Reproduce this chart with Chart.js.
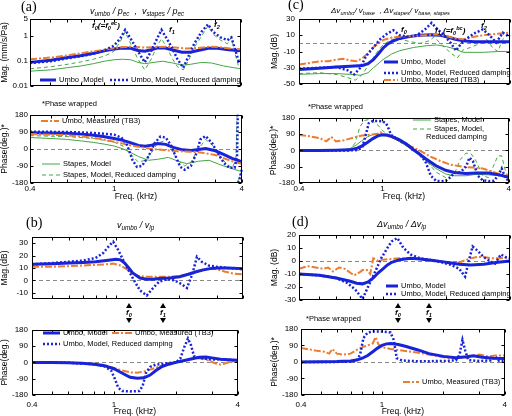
<!DOCTYPE html>
<html>
<head>
<meta charset="utf-8">
<script src="https://cdn.jsdelivr.net/npm/chart.js@4/dist/chart.umd.min.js"></script>
<style>
body{margin:0;background:#fff;}
#wrap{position:relative;width:512px;height:416px;overflow:hidden;background:#fff;font-family:"Liberation Sans",Arial,sans-serif;}
canvas{position:absolute;}
.t{position:absolute;white-space:nowrap;color:#000;line-height:1;}
.t sub{font-size:70%;vertical-align:-0.35em;line-height:0;}
.t sup{font-size:70%;vertical-align:0.5em;line-height:0;}
.lab{font-family:"Liberation Serif","Times New Roman",serif;font-size:14px;}
.ttl{font-size:9px;font-style:italic;}
.ttl.small{font-size:8px;}
.note{font-size:7.5px;}
.key{font-size:7.5px;}
.fl{font-size:8px;font-style:italic;font-weight:bold;}
.up{position:absolute;width:0;height:0;border-left:3px solid transparent;border-right:3px solid transparent;border-bottom:5px solid #000;}
.dn{position:absolute;width:0;height:0;border-left:3px solid transparent;border-right:3px solid transparent;border-top:5px solid #000;}
</style>
</head>
<body>
<div id="wrap"></div>
<script>
// frequency axis (kHz)
const FREQ_LABELS = [0.4, 1, 4];
const FREQ_MARKS = [0.4, 0.5, 0.6, 0.7, 0.8, 0.9, 1, 2, 3, 4];

// ---- (a) v_umbo/p_ec, v_stapes/p_ec : magnitude (mm/s/Pa)
const aMagModelF = [0.4,0.5,0.6,0.7,0.8,0.9,1.0,1.1,1.2,1.3,1.4,1.5,1.6,1.75,1.9,2.1,2.3,2.5,2.8,3.1,3.5,4];
const aMagModel  = [0.09,0.11,0.14,0.17,0.21,0.26,0.31,0.34,0.33,0.27,0.25,0.29,0.34,0.34,0.28,0.23,0.23,0.27,0.33,0.33,0.29,0.26];
const aMagPeakF  = [0.4,0.5,0.6,0.7,0.8,0.9,1.0,1.07,1.13,1.2,1.3,1.4,1.5,1.6,1.68,1.78,1.9,2.0,2.13,2.25,2.4,2.6,2.79,2.95,3.2,3.45,3.6,3.75,3.9,4];
const aMagRed    = [0.085,0.1,0.13,0.16,0.2,0.27,0.42,0.8,1.8,0.8,0.25,0.09,0.25,0.8,1.8,0.8,0.3,0.12,0.055,0.15,0.5,1.5,3.0,1.5,0.9,0.7,0.9,0.3,0.1,0.11];
const aMagMeasF  = [0.4,0.5,0.6,0.7,0.8,0.9,1.0,1.1,1.2,1.4,1.6,1.8,2.0,2.2,2.5,2.8,3.1,3.5,4];
const aMagMeas   = [0.12,0.14,0.17,0.21,0.25,0.29,0.33,0.37,0.38,0.35,0.37,0.38,0.35,0.32,0.34,0.38,0.37,0.33,0.3];
const aMagStapF  = [0.4,0.5,0.6,0.7,0.8,0.9,1.0,1.1,1.2,1.3,1.4,1.55,1.7,1.9,2.1,2.3,2.6,2.9,3.3,3.7,4];
const aMagStap   = [0.04,0.045,0.055,0.065,0.08,0.1,0.115,0.12,0.115,0.09,0.08,0.09,0.1,0.085,0.07,0.075,0.09,0.085,0.065,0.055,0.05];
const aMagStapRed = [0.05,0.06,0.075,0.095,0.12,0.16,0.25,0.6,1.5,0.5,0.12,0.045,0.12,0.4,0.8,0.35,0.12,0.06,0.045,0.1,0.35,1.0,2.6,1.2,0.7,0.5,0.9,0.2,0.06,0.06];

// ---- (a) phase (deg), wrapped
const aPhModelF = [0.4,0.5,0.6,0.7,0.8,0.9,1.0,1.1,1.2,1.3,1.4,1.5,1.6,1.75,1.9,2.1,2.3,2.5,2.7,3.0,3.3,3.6,4];
const aPhModel  = [85,84,82,78,72,64,55,45,32,18,14,20,28,24,8,-5,-8,-3,2,-10,-30,-50,-68];
const aPhRedF   = [0.4,0.5,0.6,0.7,0.8,0.9,1.0,1.08,1.15,1.22,1.28,1.35,1.45,1.55,1.65,1.75,1.85,1.95,2.05,2.15,2.3,2.45,2.55,2.7,2.9,3.05,3.3,3.5,3.7,3.8,3.83,3.835,3.84,3.9,4];
const aPhRed    = [90,90,89,87,84,80,75,60,20,-60,-95,-90,-40,30,65,60,20,-40,-95,-110,-90,-20,50,68,30,-15,-75,-100,-100,-40,180,null,-180,-160,-110];
const aPhMeasF  = [0.4,0.5,0.6,0.7,0.8,0.9,1.0,1.2,1.4,1.6,1.8,2.0,2.3,2.6,3.0,3.4,3.7,4];
const aPhMeas   = [78,75,72,66,58,48,38,18,5,-3,-8,-12,-15,-20,-32,-55,-70,-78];
const aPhStapF  = [0.4,0.5,0.6,0.7,0.8,0.9,1.0,1.1,1.2,1.3,1.45,1.6,1.8,2.0,2.2,2.5,2.8,3.1,3.5,4];
const aPhStap   = [60,55,50,42,34,25,15,0,-20,-40,-60,-55,-45,-65,-78,-65,-60,-80,-100,-120];
const aPhStapRedF = [0.4,0.6,0.8,0.9,1.0,1.1,1.2,1.3,1.4,1.5,1.6,1.7,1.85,2.0,2.15,2.3,2.5,2.7,2.9,3.1,3.4,3.6,3.75,3.8,3.805,3.81,3.9,4];
const aPhStapRed  = [70,65,55,45,35,15,-30,-70,-60,-20,30,40,0,-60,-90,-70,0,50,20,-30,-80,-100,-60,180,null,-180,-150,-110];

// ---- (b) v_umbo/v_lp
const bMagModelF = [0.4,0.5,0.6,0.7,0.8,0.9,1.0,1.05,1.1,1.15,1.2,1.3,1.4,1.5,1.6,1.8,2.0,2.2,2.4,2.6,2.8,3.0,3.4,4];
const bMagModel  = [13,13.5,14,14.5,15,16,17,16.5,14,10,6,2,1,1,1.5,2,3,5,7,8.5,9.5,10,10,9.5];
const bMagRedF   = [0.4,0.5,0.6,0.7,0.8,0.87,0.93,0.97,1.02,1.1,1.2,1.3,1.4,1.5,1.6,1.75,1.9,2.05,2.17,2.3,2.42,2.55,2.75,3.0,3.4,4];
const bMagRed    = [13,14,15,16,18,22,28,31,25,14,2,-8,-12,-6,-1,1,0,-3,-6,5,19,15,12,11,10,9];
const bMagMeasF  = [0.4,0.5,0.6,0.7,0.8,0.9,0.97,1.05,1.15,1.25,1.4,1.6,1.8,2.0,2.2,2.4,2.6,2.8,3.0,3.3,3.6,4];
const bMagMeas   = [11,11,11.5,12,12.5,13,13.5,12,8,4,3,3,3,3.5,4.5,7,9,10,9,7,5.5,5];
const bPhModelF  = [0.4,0.5,0.6,0.7,0.8,0.9,1.0,1.1,1.2,1.3,1.4,1.5,1.6,1.7,1.85,2.0,2.2,2.4,2.6,2.8,3.0,3.3,3.6,4];
const bPhModel   = [0,0,-2,-5,-10,-18,-35,-60,-82,-88,-85,-70,-45,-25,-10,0,10,20,28,30,25,18,15,12];
const bPhRedF    = [0.4,0.6,0.8,0.9,0.97,1.01,1.05,1.1,1.2,1.33,1.38,1.43,1.5,1.6,1.8,2.0,2.1,2.2,2.29,2.37,2.45,2.6,2.8,3.0,3.3,3.6,4];
const bPhRed     = [0,-2,-10,-22,-45,-90,-140,-158,-160,-158,-130,-60,-25,-12,-5,0,20,85,132,95,35,25,20,15,18,15,10];
const bPhMeasF   = [0.4,0.6,0.8,0.9,1.0,1.1,1.2,1.3,1.4,1.5,1.7,1.9,2.1,2.3,2.5,2.7,2.9,3.1,3.3,3.5,3.7,4];
const bPhMeas    = [0,-2,-8,-15,-30,-45,-55,-57,-50,-40,-20,-5,5,15,25,20,10,-5,-12,-5,5,5];

// ---- (c) dv_umbo/v_base, dv_stapes/v_base,stapes
const cMagModelF = [0.4,0.5,0.6,0.7,0.8,0.85,0.9,0.95,1.0,1.05,1.1,1.2,1.35,1.5,1.7,1.85,2.0,2.2,2.4,2.7,3.0,3.5,4];
const cMagModel  = [-32,-30.5,-29,-28,-27,-25,-20,-13,-6,-1,2,6,8.5,10,10.5,10,8,5,3,2,2,2,2];
const cMagRedF   = [0.4,0.5,0.6,0.68,0.73,0.78,0.83,0.9,0.97,1.05,1.12,1.2,1.3,1.45,1.6,1.7,1.8,1.95,2.1,2.22,2.35,2.5,2.7,2.97,3.2,3.44,3.7,4];
const cMagRed    = [-31,-30,-29,-33,-38,-30,-16,-5,5,12,16,10,8,10,18,25,18,10,0,-9,0,6,12,17,10,1,13,8];
const cMagMeasF  = [0.4,0.45,0.5,0.55,0.6,0.65,0.7,0.75,0.8,0.85,0.9,0.95,1.0,1.1,1.2,1.4,1.6,1.8,2.0,2.2,2.4,2.7,3.0,3.3,3.6,4];
const cMagMeas   = [-26,-24,-22,-22,-20,-19,-21,-22,-18,-12,-5,0,4,7,8,9,10,11,9,6,5,8,10,11,12,13];
const cMagStapF  = [0.4,0.5,0.6,0.7,0.78,0.85,0.9,1.0,1.1,1.2,1.4,1.6,1.8,2.0,2.2,2.4,2.7,3.0,3.5,4];
const cMagStap   = [-38,-37,-37,-38,-39,-36,-30,-20,-13,-9,-5,-3,-2,-4,-7,-11,-11,-11,-10,-10];
const cMagStapRedF = [0.4,0.5,0.6,0.68,0.74,0.8,0.86,0.93,1.0,1.1,1.2,1.35,1.5,1.65,1.75,1.9,2.1,2.25,2.4,2.6,2.9,3.1,3.3,3.5,3.7,3.9,4];
const cMagStapRed  = [-37,-36,-38,-42,-45,-38,-25,-12,-2,5,5,2,0,3,8,-2,-12,-18,-8,-5,0,5,-5,-10,5,10,8];
const cPhModelF  = [0.4,0.5,0.6,0.7,0.75,0.8,0.85,0.9,0.95,1.0,1.05,1.1,1.2,1.3,1.4,1.5,1.6,1.8,2.0,2.2,2.5,2.8,3.2,3.6,4];
const cPhModel   = [0,0,1,3,10,25,45,65,80,86,85,78,60,35,5,-20,-45,-85,-110,-122,-127,-125,-125,-135,-148];
const cPhRedF    = [0.4,0.5,0.6,0.7,0.76,0.8,0.83,0.86,0.9,0.95,1.0,1.04,1.07,1.1,1.15,1.2,1.3,1.4,1.5,1.6,1.7,1.8,1.9,2.0,2.1,2.2,2.35,2.5,2.6,2.7,2.85,3.0,3.2,3.4,3.55,3.7,3.85,4];
const cPhRed     = [0,0,0,0,2,15,80,150,162,163,160,150,120,85,70,55,35,8,-20,-60,-140,-168,-170,-168,-150,-125,-120,-90,-40,-60,-140,-165,-170,-168,-140,-100,-150,-170];
const cPhMeasF   = [0.4,0.45,0.5,0.54,0.57,0.6,0.65,0.7,0.75,0.8,0.85,0.9,0.95,0.98,1.02,1.1,1.2,1.35,1.5,1.7,1.9,2.1,2.4,2.7,3.0,3.3,3.6,4];
const cPhMeas    = [85,78,68,50,75,50,55,65,75,82,85,88,92,100,85,75,55,25,0,-35,-60,-78,-90,-95,-100,-115,-130,-140];
const cPhStapF   = [0.4,0.5,0.6,0.65,0.7,0.75,0.8,0.85,0.9,0.95,1.0,1.1,1.2,1.3,1.4,1.5,1.6,1.8,2.0,2.2,2.5,2.8,3.2,3.6,4];
const cPhStap    = [0,0,0,3,10,30,55,75,88,90,88,75,50,25,0,-25,-55,-100,-130,-140,-140,-132,-135,-140,-145];
const cPhStapRedF = [0.4,0.6,0.7,0.74,0.78,0.82,0.86,0.9,0.95,1.0,1.05,1.1,1.2,1.3,1.45,1.6,1.8,2.0,2.2,2.35,2.5,2.65,2.8,3.0,3.2,3.4,3.55,3.7,3.85,4];
const cPhStapRed  = [0,0,5,40,130,165,170,160,140,110,90,75,50,25,-10,-50,-120,-150,-130,-50,-15,-20,-60,-140,-150,-80,-30,-30,-110,-150];

// ---- (d) dv_umbo/dv_lp
const dMagModelF = [0.4,0.5,0.6,0.7,0.75,0.8,0.85,0.9,0.95,1.0,1.05,1.1,1.2,1.35,1.5,1.7,1.9,2.1,2.3,2.6,3.0,3.5,4];
const dMagModel  = [-10,-11,-13,-15.5,-17,-17.5,-16,-13,-9,-6,-3,-1,1,2,1.5,0.5,-0.5,-1.5,-2.5,-3,-2.5,-1,0];
const dMagRedF   = [0.4,0.5,0.6,0.68,0.74,0.8,0.86,0.92,0.98,1.05,1.1,1.17,1.25,1.35,1.5,1.7,1.9,2.1,2.3,2.45,2.55,2.66,2.8,3.0,3.2,3.4,3.62,3.8,4];
const dMagRed    = [-10,-11,-13,-17,-22,-29,-18,-8,2,10,15,17.5,10,5,2,0.5,-1,-3,-6,-12,0,11,8,3,0,-2,5,3,2];
const dMagMeasF  = [0.4,0.44,0.48,0.52,0.55,0.58,0.62,0.66,0.7,0.73,0.77,0.8,0.84,0.87,0.9,0.95,1.0,1.1,1.2,1.4,1.6,1.8,2.0,2.2,2.4,2.6,2.8,3.0,3.3,3.6,4];
const dMagMeas   = [-6,-4,-5,-6,-5,-8,-5,-6,-9,-11,-9,-7,-7,-10,2,0,1,1.5,2,2,1,0,-1,-2,0,2,3,3,2,2,3];
const dPhModelF  = [0.4,0.5,0.6,0.7,0.75,0.8,0.85,0.9,0.95,1.0,1.05,1.1,1.2,1.3,1.5,1.7,2.0,2.3,2.6,2.8,3.1,3.5,4];
const dPhModel   = [0,1,2,5,10,20,35,55,75,90,98,100,95,85,65,45,30,22,28,33,25,20,18];
const dPhRedF    = [0.4,0.6,0.7,0.75,0.78,0.81,0.85,0.9,1.0,1.1,1.14,1.18,1.25,1.5,2.0,2.3,2.4,2.48,2.56,2.65,3.0,3.4,3.6,3.75,4];
const dPhRed     = [0,0,1,5,40,130,160,165,165,160,120,20,8,3,5,8,40,120,60,10,5,8,30,5,5];
const dPhMeasF   = [0.4,0.44,0.48,0.52,0.55,0.57,0.6,0.64,0.7,0.75,0.8,0.85,0.9,0.93,0.96,1.0,1.1,1.2,1.4,1.6,1.8,2.0,2.3,2.6,3.0,3.3,3.6,4];
const dPhMeas     = [75,68,60,55,45,70,45,40,45,65,80,90,100,135,95,80,70,65,55,45,35,25,18,25,40,30,35,35];

const PHASE_TICKS = [-180, -90, 0, 90, 180];
const FONT = '"Liberation Sans", Arial, sans-serif';
const BLUE = 'rgb(25,35,215)';
const ORANGE = 'rgb(236,124,48)';
const GREEN = 'rgb(70,165,70)';

const STYLES = {
  model:     {borderColor: BLUE, borderWidth: 3},
  reduced:   {borderColor: BLUE, borderWidth: 2.5, borderDash: [2, 2]},
  measured:  {borderColor: ORANGE, borderWidth: 2, borderDash: [7, 2, 2, 2]},
  stapes:    {borderColor: GREEN, borderWidth: 1},
  stapesRed: {borderColor: GREEN, borderWidth: 1, borderDash: [4, 3]}
};

Chart.defaults.font.family = FONT;
Chart.defaults.color = '#000';

// box round the plot, inward ticks, dashed zero line
Chart.register({
  id: 'frame',
  beforeDatasetsDraw(chart, args, opts) {
    if (!opts.zero) return;
    const {ctx, chartArea: a} = chart;
    const y0 = Math.round(chart.scales.y.getPixelForValue(0)) + 0.5;
    ctx.save();
    ctx.strokeStyle = '#8a8a8a';
    ctx.lineWidth = 1;
    ctx.setLineDash([4, 3]);
    ctx.beginPath();
    ctx.moveTo(a.left, y0);
    ctx.lineTo(a.right, y0);
    ctx.stroke();
    ctx.restore();
  },
  afterDatasetsDraw(chart) {
    const {ctx, chartArea: a, scales} = chart;
    const l = Math.round(a.left) + 0.5, r = Math.round(a.right) - 0.5;
    const t = Math.round(a.top) + 0.5, b = Math.round(a.bottom) - 0.5;
    ctx.save();
    ctx.strokeStyle = '#000';
    ctx.lineWidth = 1;
    ctx.strokeRect(l, t, r - l, b - t);
    ctx.beginPath();
    FREQ_MARKS.forEach(f => {
      const x = Math.round(scales.x.getPixelForValue(f)) + 0.5;
      ctx.moveTo(x, b); ctx.lineTo(x, b - 3);
      ctx.moveTo(x, t); ctx.lineTo(x, t + 3);
    });
    scales.y.ticks.forEach(tk => {
      const y = Math.round(scales.y.getPixelForValue(tk.value)) + 0.5;
      ctx.moveTo(l, y); ctx.lineTo(l + 3, y);
      ctx.moveTo(r, y); ctx.lineTo(r - 3, y);
    });
    ctx.stroke();
    ctx.restore();
  }
});

const wrap = document.getElementById('wrap');

function series(f, v, s) {
  return Object.assign({
    data: f.map((x, i) => ({x: x, y: v[i]})),
    pointRadius: 0, tension: 0, fill: false, spanGaps: false, clip: 1
  }, STYLES[s]);
}

function xAxis(h, pad) {
  const show = pad !== undefined;
  return {
    type: 'logarithmic', min: 0.4, max: 4,
    grid: {display: false, drawTicks: false}, border: {display: false},
    afterBuildTicks: s => { s.ticks = FREQ_LABELS.map(v => ({value: v})); },
    afterFit: s => { s.height = h; },
    ticks: {display: show, padding: pad || 0, maxRotation: 0, autoSkip: false, font: {size: 8}, callback: v => String(v)},
    title: {display: show, text: 'Freq. (kHz)', padding: 0, font: {size: 8.5}}
  };
}

function yAxis(type, title, ticks, min, max, pad) {
  return {
    type: type, min: min, max: max,
    grid: {display: false, drawTicks: false}, border: {display: false},
    afterBuildTicks: s => { s.ticks = ticks.map(v => ({value: v})); },
    ticks: {padding: pad, font: {size: 8}, callback: v => String(v)},
    title: {display: true, text: title, padding: 0, font: {size: 8.5}}
  };
}

function makePanel(g, y, datasets, zero) {
  const cv = document.createElement('canvas');
  const w = g.R + 3 - g.cl, h = g.B - g.T + 6 + g.xH;
  cv.width = w; cv.height = h;
  cv.style.left = g.cl + 'px';
  cv.style.top = (g.T - 6) + 'px';
  cv.style.width = w + 'px';
  cv.style.height = h + 'px';
  wrap.appendChild(cv);
  y.afterFit = s => { s.width = g.L - g.cl; };
  new Chart(cv, {
    type: 'line',
    data: {datasets: datasets},
    options: {
      responsive: false, animation: false, events: [],
      layout: {padding: {top: 6, right: 3, bottom: 0, left: 0}},
      plugins: {legend: {display: false}, tooltip: {enabled: false}, frame: {zero: zero}},
      scales: {x: xAxis(g.xH, g.xPad), y: y}
    }
  });
}

// (a)
makePanel({L: 30, R: 241, T: 18, B: 87, cl: 0, xH: 6},
  yAxis('logarithmic', 'Mag. (mm/s/Pa)', [0.01, 0.1, 1, 5], 0.01, 5, 2),
  [series(aMagPeakF, aMagRed, 'reduced'), series(aMagMeasF, aMagMeas, 'measured'),
   series(aMagModelF, aMagModel, 'model'), series(aMagPeakF, aMagStapRed, 'stapesRed'),
   series(aMagStapF, aMagStap, 'stapes')], false);
makePanel({L: 30, R: 242, T: 114, B: 183, cl: 0, xH: 19, xPad: 1},
  yAxis('linear', 'Phase(deg.)*', PHASE_TICKS, -180, 180, 2),
  [series(aPhRedF, aPhRed, 'reduced'), series(aPhMeasF, aPhMeas, 'measured'),
   series(aPhModelF, aPhModel, 'model'), series(aPhStapRedF, aPhStapRed, 'stapesRed'),
   series(aPhStapF, aPhStap, 'stapes')], true);

// (b)
makePanel({L: 32, R: 243, T: 234, B: 302, cl: 0, xH: 6},
  yAxis('linear', 'Mag.(dB)', [-10, 0, 10, 20, 30], -15, 35, 4),
  [series(bMagRedF, bMagRed, 'reduced'), series(bMagModelF, bMagModel, 'model'),
   series(bMagMeasF, bMagMeas, 'measured')], true);
makePanel({L: 32, R: 242, T: 327, B: 395, cl: 0, xH: 22, xPad: 5},
  yAxis('linear', 'Phase(deg.)', PHASE_TICKS, -180, 180, 4),
  [series(bPhRedF, bPhRed, 'reduced'), series(bPhModelF, bPhModel, 'model'),
   series(bPhMeasF, bPhMeas, 'measured')], true);

// (c)
makePanel({L: 299, R: 510, T: 16, B: 87, cl: 270, xH: 6},
  yAxis('linear', 'Mag.(dB)', [-50, -40, -30, -20, -10, 0, 10, 20, 30], -50, 30, 4),
  [series(cMagRedF, cMagRed, 'reduced'), series(cMagMeasF, cMagMeas, 'measured'),
   series(cMagModelF, cMagModel, 'model'), series(cMagStapRedF, cMagStapRed, 'stapesRed'),
   series(cMagStapF, cMagStap, 'stapes')], true);
makePanel({L: 299, R: 509, T: 115, B: 183, cl: 269, xH: 19, xPad: 1},
  yAxis('linear', 'Phase(deg.)*', PHASE_TICKS, -180, 180, 4),
  [series(cPhRedF, cPhRed, 'reduced'), series(cPhModelF, cPhModel, 'model'),
   series(cPhMeasF, cPhMeas, 'measured'), series(cPhStapRedF, cPhStapRed, 'stapesRed'),
   series(cPhStapF, cPhStap, 'stapes')], true);

// (d)
makePanel({L: 299, R: 510, T: 233, B: 302, cl: 270, xH: 6},
  yAxis('linear', 'Mag. (dB)', [-30, -20, -10, 0, 10, 20], -30, 20, 3),
  [series(dMagRedF, dMagRed, 'reduced'), series(dMagModelF, dMagModel, 'model'),
   series(dMagMeasF, dMagMeas, 'measured')], true);
makePanel({L: 301, R: 509, T: 327, B: 395, cl: 270, xH: 22, xPad: 5},
  yAxis('linear', 'Phase(deg.)*', PHASE_TICKS, -180, 180, 3),
  [series(dPhRedF, dPhRed, 'reduced'), series(dPhModelF, dPhModel, 'model'),
   series(dPhMeasF, dPhMeas, 'measured')], true);

// ---- text round the plots
function put(x, y, cls, html) {
  const d = document.createElement('div');
  d.className = 't ' + cls;
  d.style.left = x + 'px';
  d.style.top = y + 'px';
  d.innerHTML = html;
  wrap.appendChild(d);
}
function key(x, yc, s, text, len) {
  const st = STYLES[s];
  const dash = st.borderDash ? st.borderDash.join(',') : 'none';
  put(x, yc - 4, 'key',
    '<svg width="' + len + '" height="6" style="vertical-align:middle"><line x1="0" y1="3" x2="' + len +
    '" y2="3" stroke="' + st.borderColor + '" stroke-width="' + st.borderWidth + '" stroke-dasharray="' + dash +
    '"/></svg><span style="margin-left:3px">' + text + '</span>');
}
function mark(x, f) {
  const up = document.createElement('div'); up.className = 'up';
  up.style.left = (x - 3) + 'px'; up.style.top = '303px'; wrap.appendChild(up);
  const dn = document.createElement('div'); dn.className = 'dn';
  dn.style.left = (x - 3) + 'px'; dn.style.top = '318px'; wrap.appendChild(dn);
  put(x - 3, 309, 'fl', '<i>f</i><sub>' + f + '</sub>');
}

put(21, 0, 'lab', '(a)');
put(26, 216, 'lab', '(b)');
put(288, -2, 'lab', '(c)');
put(292, 215, 'lab', '(d)');

put(90, 7, 'ttl', 'v<sub>umbo</sub> / p<sub>ec</sub> &nbsp;, &nbsp;v<sub>stapes</sub> / p<sub>ec</sub>');
put(331, 7, 'ttl small', 'Δv<sub>umbo</sub>/ v<sub>base</sub> &nbsp;, Δv<sub>stapes</sub>/ v<sub>base, stapes</sub>');
put(117, 221, 'ttl', 'v<sub>umbo</sub> / v<sub>lp</sub>');
put(377, 220, 'ttl', 'Δv<sub>umbo</sub> / Δv<sub>lp</sub>');

put(42, 100, 'note', '*Phase wrapped');
put(308, 103, 'note', '*Phase wrapped');
put(306, 315, 'note', '*Phase wrapped');

put(92, 22, 'fl', 'f<sub>0</sub>(=f<sub>0</sub><sup>ec</sup>)');
put(169, 26, 'fl', 'f<sub>1</sub>');
put(214, 21, 'fl', 'f<sub>2</sub>');
put(401, 26, 'fl', 'f<sub>0</sub>');
put(435, 27, 'fl', 'f<sub>1</sub> (=f<sub>0</sub><sup>bc</sup>)');
put(481, 22, 'fl', 'f<sub>2</sub>');

mark(129, 0); mark(163, 1);
mark(398, 0); mark(429, 1);

key(40, 80, 'model', 'Umbo ,Model', 16);
key(110, 80, 'reduced', 'Umbo, Model, Reduced damping', 18);
key(41, 121, 'measured', 'Umbo, Measured (TB3)', 18);
key(42, 164, 'stapes', 'Stapes, Model', 18);
key(42, 175, 'stapesRed', 'Stapes, Model, Reduced damping', 18);

key(384, 62, 'model', 'Umbo, Model', 14);
key(384, 73, 'reduced', 'Umbo, Model, Reduced damping', 14);
key(384, 80, 'measured', 'Umbo, Measured (TB3)', 14);
key(413, 120, 'stapes', 'Stapes, Model', 18);
key(413, 129, 'stapesRed', 'Stapes, Model,', 18);
put(426, 133, 'key', 'Reduced damping');

key(43, 333, 'model', 'Umbo, Model', 17);
key(112, 333, 'measured', 'Umbo, Measured (TB3)', 20);
key(43, 344, 'reduced', 'Umbo, Model, Reduced damping', 17);

key(386, 286, 'model', 'Umbo, Model', 12);
key(386, 294, 'reduced', 'Umbo, Model, Reduced damping', 12);
key(403, 382, 'measured', 'Umbo, Measured (TB3)', 16);
</script>
</body>
</html>
